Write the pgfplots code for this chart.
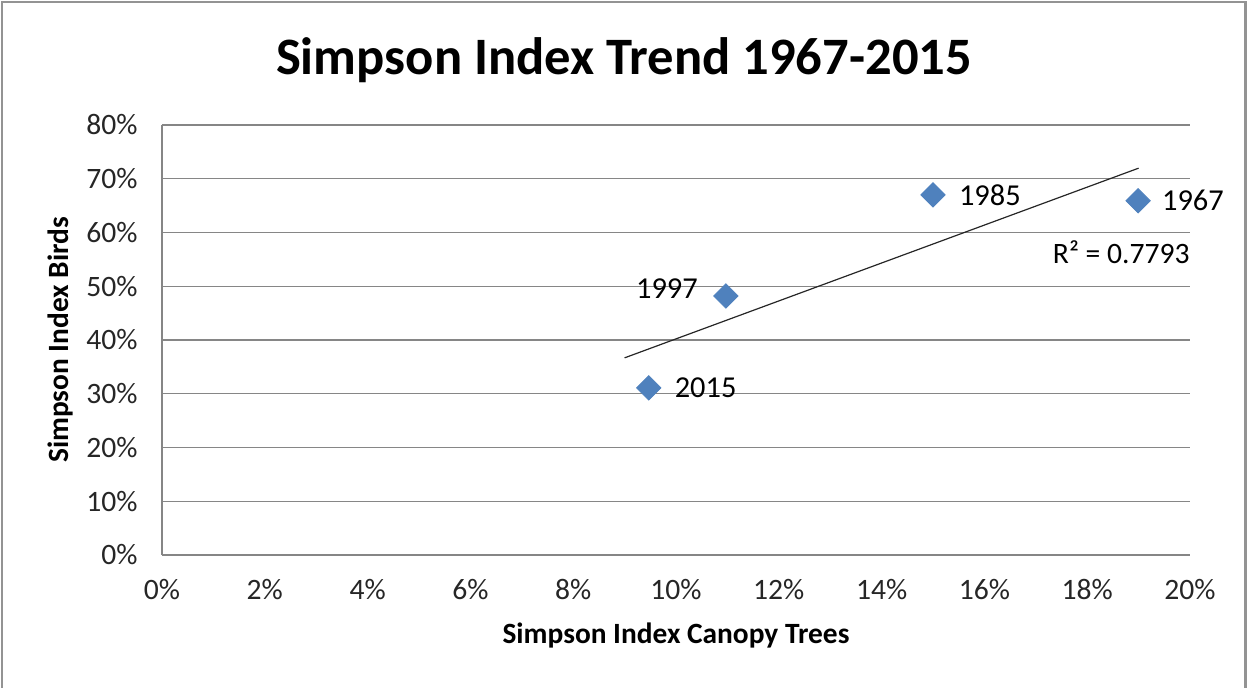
\documentclass[border=0pt]{standalone}
\usepackage{pgfplots}
\pgfplotsset{compat=1.18}
\usepackage{fontspec}
\setmainfont{Carlito}
\definecolor{ptblue}{RGB}{79,129,189}
\definecolor{gridgray}{RGB}{134,134,134}
\begin{document}
\begin{tikzpicture}
\begin{axis}[
  scale only axis,
  width=514pt, height=215pt,
  xmin=0, xmax=20, ymin=0, ymax=80,
  xtick={0,2,...,20}, ytick={0,10,...,80},
  xticklabel={\pgfmathprintnumber{\tick}\%},
  yticklabel={\pgfmathprintnumber{\tick}\%},
  /pgf/number format/assume math mode=true,
  axis x line*=bottom, axis y line*=left,
  axis line style={gridgray, line width=0.6pt},
  tick style={draw=none},
  ymajorgrids, grid style={gridgray, line width=0.6pt},
  ticklabel style={font=\fontsize{14.8}{16}\selectfont, text=black!85},
  yticklabel style={anchor=east, inner sep=0pt, xshift=-12pt},
  xticklabel style={anchor=north, inner sep=0pt, yshift=-12pt},
  clip=false,
]
\addplot[draw=black!85, line width=0.6pt, forget plot] coordinates {(9,36.68) (19,71.97)};
\addplot[only marks, mark=square*, mark size=4.3pt, mark options={rotate=45, fill=ptblue, draw=ptblue}]
  coordinates {(9.47,31.1) (10.97,48.2) (15.0,67.0) (18.99,65.9)};
\node[anchor=west, xshift=9.5pt, font=\fontsize{15.2}{16}\selectfont] at (axis cs:9.47,31.1) {2015};
\node[anchor=east, xshift=-10.5pt, yshift=3.5pt, font=\fontsize{15.2}{16}\selectfont] at (axis cs:10.97,48.2) {1997};
\node[anchor=west, xshift=9.5pt, font=\fontsize{15.2}{16}\selectfont] at (axis cs:15.0,67.0) {1985};
\node[anchor=west, xshift=8.5pt, font=\fontsize{15.2}{16}\selectfont] at (axis cs:18.99,65.9) {1967};
\node[anchor=east, inner sep=0pt, font=\fontsize{14.8}{16}\selectfont] at (axis cs:20,56.4) {R² = 0.7793};
\coordinate (sw) at (rel axis cs:0,0);
\coordinate (ne) at (rel axis cs:1,1);
\coordinate (topleft) at (rel axis cs:0,1);
\coordinate (leftmid) at (rel axis cs:0,0.5);
\coordinate (botmid) at (rel axis cs:0.5,0);
\end{axis}
\node[font=\fontsize{26.3}{30}\selectfont\bfseries] at ([shift={(231pt,32.5pt)}]topleft) {Simpson Index Trend 1967-2015};
\node[font=\fontsize{14.7}{16}\selectfont\bfseries, rotate=90] at ([shift={(-51pt,0pt)}]leftmid) {Simpson Index Birds};
\node[font=\fontsize{14.7}{16}\selectfont\bfseries] at ([shift={(0pt,-40.5pt)}]botmid) {Simpson Index Canopy Trees};
\draw[gray!85, line width=1.1pt] ([shift={(-80pt,-70pt)}]sw) -- ([shift={(-80pt,61.5pt)}]topleft) -- ([shift={(27.75pt,61.5pt)}]ne) -- ([shift={(27.75pt,-70pt)}]ne |- sw);
\pgfresetboundingbox
\path[use as bounding box] ([shift={(-81pt,-66.5pt)}]sw) rectangle ([shift={(28.5pt,62.5pt)}]ne);
\end{tikzpicture}
\end{document}
